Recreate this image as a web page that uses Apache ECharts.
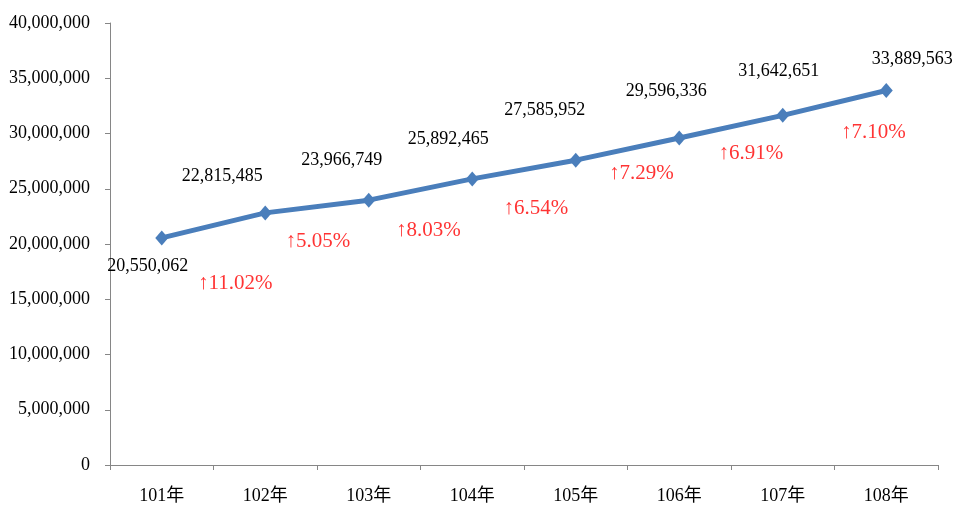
<!DOCTYPE html>
<html>
<head>
<meta charset="utf-8">
<script src="https://cdn.jsdelivr.net/npm/echarts@6/dist/echarts.min.js"></script>
<style>
  html, body { margin: 0; padding: 0; background: #fff; }
  #chart { width: 957px; height: 509px; }
</style>
</head>
<body>
<div id="chart"></div>
<script>
// data
var years = ['101年', '102年', '103年', '104年', '105年', '106年', '107年', '108年']
var totals = [20550062, 22815485, 23966749, 25892465, 27585952, 29596336, 31642651, 33889563]
var growth = ['', '↑11.02%', '↑5.05%', '↑8.03%', '↑6.54%', '↑7.29%', '↑6.91%', '↑7.10%']

// label placement relative to each point (px)
var totalLabelOffset = [[-14, 28], [-43, -37], [-27, -40], [-24, -40], [-31, -50], [-13, -47], [-4, -44], [26, -31]]
var growthLabelOffset = [[0, 0], [-30, 71], [-51, 41], [-44, 52], [-40, 48], [-38, 36], [-32, 38], [-13, 42]]

var serif = "'Liberation Serif', 'Times New Roman', 'Noto Sans CJK TC', serif"

var chart = echarts.init(document.getElementById('chart'))

var totalData = totals.map(function (v, i) {
  return {
    value: v,
    label: { offset: totalLabelOffset[i] }
  }
})

var growthData = totals.map(function (v, i) {
  return {
    value: [i, v],
    label: { offset: growthLabelOffset[i], formatter: growth[i] }
  }
})

chart.setOption({
  backgroundColor: '#ffffff',
  animation: false,
  grid: {
    left: 110,
    right: 19,
    top: 23,
    bottom: 44
  },
  xAxis: {
    type: 'category',
    data: years,
    boundaryGap: true,
    axisLine: { lineStyle: { color: '#868686', width: 1 } },
    axisTick: { show: true, length: 5, lineStyle: { color: '#868686' } },
    axisLabel: {
      color: '#000',
      fontFamily: serif,
      fontSize: 18,
      margin: 22
    },
    splitLine: { show: false }
  },
  yAxis: {
    type: 'value',
    min: 0,
    max: 40000000,
    interval: 5000000,
    axisLine: { show: true, lineStyle: { color: '#868686', width: 1 } },
    axisTick: { show: true, length: 5, lineStyle: { color: '#868686' } },
    axisLabel: {
      color: '#000',
      fontFamily: serif,
      fontSize: 18,
      margin: 20,
      formatter: function (v) {
        return v.toLocaleString('en-US')
      }
    },
    splitLine: { show: false }
  },
  series: [{
    name: 'total',
    type: 'line',
    data: totalData,
    z: 3,
    symbol: 'diamond',
    symbolSize: [13, 15],
    itemStyle: { color: '#4a7ebb' },
    lineStyle: { color: '#4a7ebb', width: 5 },
    label: {
      show: true,
      position: 'inside',
      color: '#000',
      fontFamily: serif,
      fontSize: 18,
      formatter: function (p) {
        return p.value.toLocaleString('en-US')
      }
    }
  }, {
    name: 'growth',
    type: 'scatter',
    data: growthData,
    z: 2,
    symbol: 'circle',
    symbolSize: 2,
    silent: true,
    itemStyle: { color: 'rgba(255,255,255,0)' },
    label: {
      show: true,
      position: 'inside',
      color: '#ff0000',
      fontFamily: serif,
      fontSize: 21
    }
  }]
})
</script>
</body>
</html>
